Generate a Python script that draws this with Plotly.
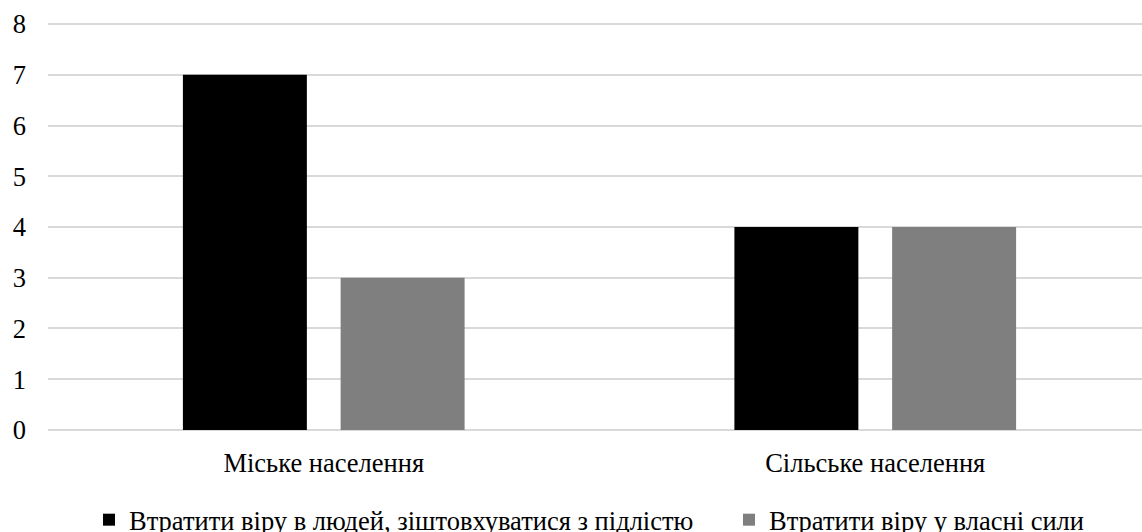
import plotly.graph_objects as go

categories = ["Міське населення", "Сільське населення"]
series_names = [
    "Втратити віру в людей, зіштовхуватися з підлістю",
    "Втратити віру у власні сили",
]
lose_faith_in_people = [7, 4]
lose_faith_in_self = [3, 4]
series_colors = ["#000000", "#7f7f7f"]
y_ticks = [0, 1, 2, 3, 4, 5, 6, 7, 8]

W, H = 1142, 532
FONT = "Liberation Serif, Times New Roman, serif"
FS = 26.5

fig = go.Figure()
for i, (name, vals, col) in enumerate(zip(series_names, [lose_faith_in_people, lose_faith_in_self], series_colors)):
    fig.add_trace(go.Bar(
        x=categories, y=vals, name=name,
        marker=dict(color=col, line=dict(width=0)),
        legend="legend" if i == 0 else "legend2",
    ))

plot_left = 48
plot_width = W - plot_left
cat_px = 551.5  # pixel width of one category slot
pad = 0.04      # small headroom so the 0 and 8 gridlines are drawn

legend_style = dict(
    orientation="h",
    yanchor="top", y=-0.156,
    xanchor="left",
    font=dict(family=FONT, size=FS, color="#000000"),
    bgcolor="rgba(0,0,0,0)",
    borderwidth=0,
)

fig.update_layout(
    width=W, height=H,
    autosize=False,
    margin=dict(l=plot_left, r=0, t=22, b=99.5, autoexpand=False),
    paper_bgcolor="white",
    plot_bgcolor="white",
    barmode="group",
    bargap=0.428,
    bargroupgap=0.214,
    font=dict(family=FONT, size=FS, color="#000000"),
    showlegend=True,
    legend=dict(x=0.0375, **legend_style),
    legend2=dict(x=0.6225, **legend_style),
    xaxis=dict(
        type="category",
        range=[-0.5, -0.5 + plot_width / cat_px],
        showgrid=False, zeroline=False, showline=False,
        ticks="", ticklabelstandoff=12,
        tickfont=dict(family=FONT, size=FS, color="#000000"),
    ),
    yaxis=dict(
        range=[0 - pad, 8 + pad],
        tickvals=y_ticks,
        showgrid=True, gridcolor="#d9d9d9", gridwidth=1.5,
        zeroline=False, showline=False,
        ticks="", ticklabelstandoff=21,
        tickfont=dict(family=FONT, size=FS, color="#000000"),
    ),
)

fig.write_html("out.html")
